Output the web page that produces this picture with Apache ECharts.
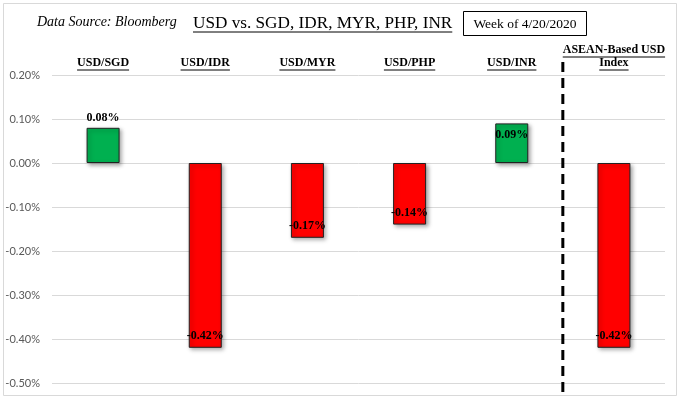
<!DOCTYPE html>
<html><head><meta charset="utf-8">
<script src="https://cdn.jsdelivr.net/npm/echarts@6/dist/echarts.min.js"></script>
<style>html,body{margin:0;padding:0;background:#fff}#c{width:680px;height:399px}</style>
</head><body><div id="c"></div>
<script>
const categories = ['USD/SGD', 'USD/IDR', 'USD/MYR', 'USD/PHP', 'USD/INR', 'ASEAN-Based USD\nIndex'];
const values = [0.08, -0.42, -0.17, -0.14, 0.09, -0.42];
const yMin = -0.5, yMax = 0.2, yInterval = 0.1;
const titleText = 'USD vs. SGD, IDR, MYR, PHP, INR';
const sourceText = 'Data Source: Bloomberg';
const weekText = 'Week of 4/20/2020';

const serif = '"Liberation Serif", "Times New Roman", serif';
const chart = echarts.init(document.getElementById('c'), null, {renderer: 'canvas'});

function labelFor(v, i) {
  let pos = v >= 0 ? 'top' : 'insideBottom';
  if (v >= 0 && i === 4) pos = 'insideTop';
  return {show: true, position: pos, distance: pos === 'top' ? 4 : 6};
}

const data = values.map((v, i) => ({
  value: v,
  itemStyle: {color: v >= 0 ? '#00B050' : '#FF0000'},
  label: labelFor(v, i)
}));

chart.setOption({
  animation: false,
  backgroundColor: '#fff',
  grid: {left: 52, right: 15, top: 75, bottom: 16},
  xAxis: {
    type: 'category', position: 'top', data: categories,
    axisLine: {show: false}, axisTick: {show: false},
    axisLabel: {margin: 6, fontFamily: serif, fontWeight: 'bold', fontSize: 12, color: '#000', lineHeight: 13, interval: 0}
  },
  yAxis: {
    type: 'value', min: yMin, max: yMax, interval: yInterval,
    axisLine: {show: false}, axisTick: {show: false},
    axisLabel: {margin: 12, fontFamily: 'Lato, "Open Sans", sans-serif', fontSize: 11, color: '#595959',
      formatter: v => v.toFixed(2) + '%'},
    splitLine: {lineStyle: {color: '#d9d9d9', width: 1}}
  },
  series: [{
    type: 'bar', data: data, barWidth: 33,
    itemStyle: {borderColor: '#222', borderWidth: 1, shadowBlur: 4, shadowOffsetX: 2, shadowOffsetY: 2, shadowColor: 'rgba(0,0,0,0.35)'},
    label: {fontFamily: serif, fontWeight: 'bold', fontSize: 12, color: '#000',
      formatter: p => p.value.toFixed(2) + '%'}
  }]
});

const ctx = document.createElement('canvas').getContext('2d');
function tw(text, font) { ctx.font = font; return ctx.measureText(text).width; }

const g = [];
g.push({type: 'rect', shape: {x: 3.5, y: 3.5, width: 673, height: 392}, style: {fill: 'none', stroke: '#d9d9d9', lineWidth: 1}, silent: true, z: -1});
g.push({type: 'text', x: 37, y: 22, style: {text: sourceText, font: 'italic 14px ' + serif, fill: '#000', textVerticalAlign: 'middle'}});
const tFont = '17.2px ' + serif;
const tW = tw(titleText, tFont);
const tX = 193;
g.push({type: 'text', x: tX, y: 23, style: {text: titleText, font: tFont, fill: '#000', textVerticalAlign: 'middle'}});
g.push({type: 'line', shape: {x1: tX, y1: 32, x2: tX + tW, y2: 32}, style: {stroke: '#000', lineWidth: 1}});
g.push({type: 'rect', shape: {x: 463.5, y: 11.5, width: 123, height: 24}, style: {fill: '#fff', stroke: '#000', lineWidth: 1}});
g.push({type: 'text', x: 525, y: 24, style: {text: weekText, font: '13.5px ' + serif, fill: '#000', textAlign: 'center', textVerticalAlign: 'middle'}});

const cFont = 'bold 12px ' + serif;
categories.forEach((c, i) => {
  const cx = chart.convertToPixel({xAxisIndex: 0}, i);
  const lines = c.split('\n');
  lines.forEach((ln, j) => {
    const w = tw(ln, cFont);
    const y = 70 - (lines.length - 1 - j) * 13;
    g.push({type: 'line', shape: {x1: cx - w / 2, y1: y, x2: cx + w / 2, y2: y}, style: {stroke: '#000', lineWidth: 1}});
  });
});
const sx = (chart.convertToPixel({xAxisIndex: 0}, 4) + chart.convertToPixel({xAxisIndex: 0}, 5)) / 2;
g.push({type: 'line', shape: {x1: sx, y1: 62, x2: sx, y2: 396}, style: {stroke: '#000', lineWidth: 3, lineDash: [10, 6]}});

chart.setOption({graphic: g});
</script></body></html>
